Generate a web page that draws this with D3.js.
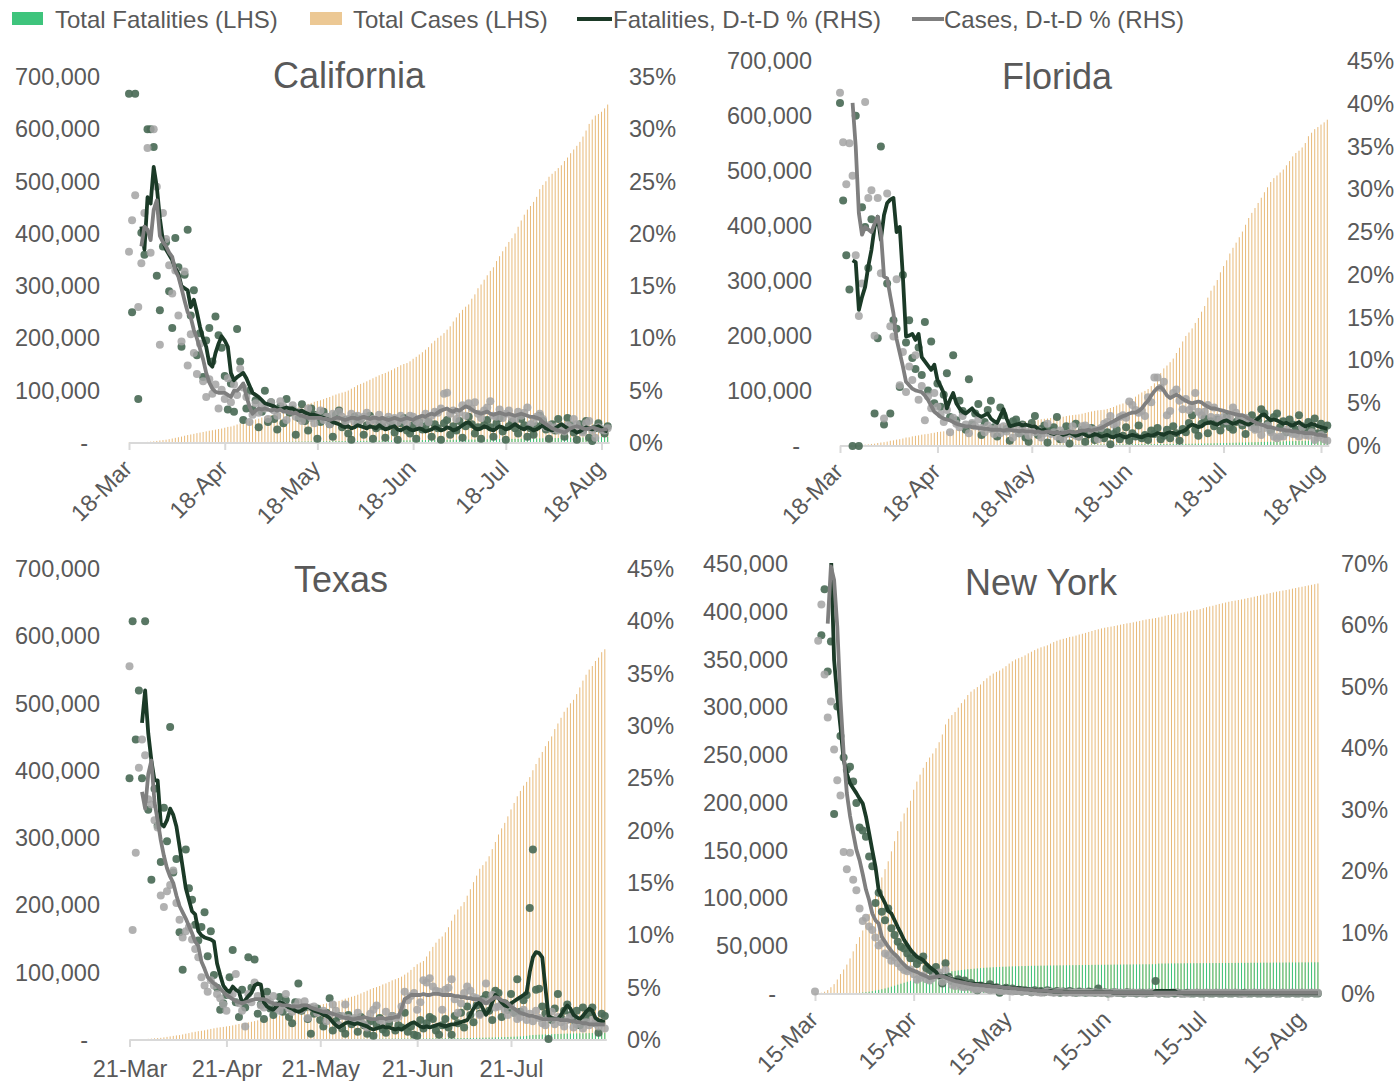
<!DOCTYPE html>
<html>
<head>
<meta charset="utf-8">
<script src="https://cdn.jsdelivr.net/npm/d3@7"></script>
<style>
    body { margin: 0; background: #fff; }
    svg text { font-family: "Liberation Sans", Arial, sans-serif; fill: #595959; }
</style>
</head>
<body>
<svg id="chart" width="1396" height="1081"></svg>
<script>
// series names for the legend
const seriesNames = ["Total Fatalities (LHS)", "Total Cases (LHS)", "Fatalities, D-t-D % (RHS)", "Cases, D-t-D % (RHS)"];
const stateNames = ["California", "Florida", "Texas", "New York"];

// ---------- California (daily from 18-Mar, totals in thousands, rates in %) ----------
const caTicks = ["18-Mar", "18-Apr", "18-May", "18-Jun", "18-Jul", "18-Aug"];
const caCases = [
    0.7, 0.9, 1.1, 1.3, 1.5, 1.8, 2.1, 2.6, 3.2, 4.0, 4.9, 5.6, 6.3, 7.4,
    8.6, 9.9, 11.0, 12.3, 13.9, 15.2, 16.3, 17.5, 18.9, 19.9, 21.1, 22.3, 23.5, 24.4, 25.5, 26.7, 27.7, 29.2, 30.8, 31.5, 33.2, 35.4, 37.4, 39.6, 41.4, 42.4, 44.0, 45.0, 46.5, 48.7,
    50.4, 52.0, 53.6, 54.9, 56.2, 58.5, 60.6, 62.5, 64.5, 66.6, 67.9, 69.5, 71.1, 72.8, 74.8, 76.7, 78.8, 80.4, 81.8, 83.8, 86.2, 88.0, 90.6, 92.7, 94.8, 96.4, 98.0, 100.4, 103.9, 106.9, 110.6,
    113.0, 115.3, 118.0, 120.9, 123.8, 126.7, 129.5, 132.0, 134.0, 136.6, 139.3, 142.6, 145.3, 148.7, 151.1, 152.9, 156.2, 161.1, 164.8, 169.3, 173.6, 178.5, 183.3, 190.6, 195.6, 201.1, 205.2, 210.2, 216.8, 223.2,
    232.4, 240.2, 248.2, 254.7, 260.7, 265.0, 276.0, 284.3, 296.0, 303.2, 312.3, 320.8, 329.2, 336.1, 348.0, 357.3, 366.7, 375.4, 384.5, 391.7, 400.8, 413.6, 425.6, 436.7, 446.4, 453.3, 461.1, 470.8, 485.5, 493.6, 500.6,
    509.2, 514.9, 519.9, 525.8, 531.2, 539.3, 546.0, 554.2, 561.3, 568.4, 575.9, 586.1, 597.6, 610.3, 618.7, 626.2, 629.2, 633.5, 640.0, 647.3
];
const caDeaths = [
    0.02, 0.02, 0.02, 0.03, 0.03, 0.04, 0.04, 0.05, 0.07, 0.08, 0.1, 0.12, 0.13, 0.16,
    0.18, 0.21, 0.24, 0.28, 0.32, 0.35, 0.38, 0.44, 0.5, 0.56, 0.6, 0.65, 0.71, 0.76, 0.82, 0.9, 0.98, 1.05, 1.12, 1.17, 1.22, 1.28, 1.35, 1.42, 1.49, 1.56, 1.62, 1.69, 1.76, 1.84,
    1.91, 1.98, 2.05, 2.1, 2.15, 2.2, 2.3, 2.4, 2.5, 2.6, 2.65, 2.7, 2.75, 2.85, 2.95, 3.03, 3.1, 3.15, 3.2, 3.3, 3.38, 3.45, 3.52, 3.6, 3.65, 3.7, 3.75, 3.8, 3.88, 3.97, 4.04,
    4.1, 4.15, 4.2, 4.3, 4.4, 4.5, 4.55, 4.6, 4.65, 4.75, 4.85, 4.95, 5.0, 5.05, 5.1, 5.15, 5.25, 5.35, 5.45, 5.5, 5.55, 5.6, 5.65, 5.7, 5.8, 5.9, 5.95, 6.0, 6.05, 6.1,
    6.2, 6.3, 6.35, 6.4, 6.45, 6.5, 6.6, 6.7, 6.85, 6.95, 7.05, 7.1, 7.15, 7.25, 7.35, 7.5, 7.6, 7.7, 7.8, 7.85, 7.9, 8.05, 8.2, 8.35, 8.45, 8.55, 8.6, 8.7, 8.9, 9.05, 9.2,
    9.25, 9.3, 9.4, 9.5, 9.7, 9.85, 10.0, 10.1, 10.2, 10.3, 10.4, 10.55, 10.7, 10.85, 10.95, 11.0, 11.1, 11.2, 11.35, 11.5
];
const caFatPct = [
    33.4, 12.5, 33.4, 4.2, 20.1, 18.0, 30.0, 30.0, 28.3, 16.0,
    12.7, 18.8, 19.2, 14.5, 11.0, 19.6, 16.8, 9.2, 16.1, 20.4,
    12.2, 14.6, 8.4, 10.5, 6.3, 9.8, 11.0, 7.8, 12.1, 10.3,
    9.1, 6.4, 3.2, 5.7, 3.0, 10.9, 7.8, 2.2, 3.3, 5.0,
    3.2, 4.1, 1.5, 3.0, 5.0, 2.0, 3.9, 2.3, 1.3, 3.5,
    1.9, 4.2, 2.9, 3.2, 0.8, 2.4, 3.7, 2.1, 1.2, 3.3,
    2.7, 0.4, 2.0, 3.0, 2.5, 1.8, 0.6, 2.7, 3.1, 1.5,
    2.2, 0.9, 0.3, 2.5, 1.9, 2.3, 0.8, 1.7, 2.6, 0.4,
    1.4, 2.1, 1.6, 0.5, 2.2, 1.8, 1.0, 0.3, 1.9, 2.4,
    1.2, 0.9, 1.7, 0.4, 2.0, 1.3, 1.6, 2.0, 0.6, 1.8,
    1.4, 0.3, 1.9, 2.2, 0.8, 1.6, 1.2, 2.1, 0.5, 1.6,
    2.5, 1.8, 0.9, 1.5, 0.4, 1.7, 2.2, 1.5, 0.6, 1.9,
    2.4, 1.1, 0.3, 1.6, 2.0, 1.4, 0.9, 2.3, 1.7, 0.6,
    1.4, 0.8, 1.6, 2.6, 2.1, 1.3, 0.4, 1.8, 1.2, 2.3,
    1.5, 0.6, 2.4, 1.7, 1.0, 0.3, 1.8, 1.2, 2.1, 0.5,
    0.2, 1.4, 1.9, 1.3, 0.9, 1.6
];
const caCasePct = [
    18.3, 21.3, 23.7, 13.0, 17.2, 22.0, 28.2, 18.2, 30.0, 24.5,
    9.4, 22.0, 19.5, 17.0, 14.3, 16.5, 12.2, 9.7, 16.4, 7.4,
    10.4, 8.6, 6.6, 9.5, 5.9, 4.4, 6.1, 4.7, 5.6, 3.3,
    5.1, 4.2, 6.2, 3.9, 5.6, 4.6, 7.1, 5.3, 4.4, 2.0,
    2.7, 3.8, 2.9, 3.6, 3.3, 2.3, 3.9, 3.1, 2.6, 4.0,
    3.5, 2.2, 3.1, 3.6, 2.5, 3.0, 2.1, 2.8, 3.3, 2.4,
    1.9, 2.6, 3.1, 2.2, 2.5, 1.8, 2.8, 2.2, 3.0, 2.5,
    1.9, 2.3, 2.8, 2.0, 2.6, 2.2, 2.5, 2.9, 2.0, 2.3,
    2.1, 2.7, 2.2, 1.9, 2.5, 2.1, 2.4, 2.0, 2.6, 2.2,
    1.9, 2.6, 2.5, 2.1, 1.8, 2.4, 2.8, 2.0, 2.6, 3.0,
    2.9, 3.3, 4.7, 4.8, 2.8, 3.1, 2.3, 2.9, 3.6, 2.6,
    3.8, 3.3, 3.9, 2.8, 2.4, 3.1, 3.4, 4.0, 2.6, 2.5,
    3.2, 2.4, 2.8, 3.1, 2.4, 2.2, 3.0, 2.6, 2.9, 3.4,
    1.8, 2.0, 2.5, 2.8, 2.3, 1.5, 1.7, 1.3, 1.5, 1.2,
    1.4, 1.1, 1.7, 1.5, 2.3, 1.8, 1.3, 1.0, 1.9, 2.1,
    1.2, 0.5, 1.5, 1.3, 1.2, 1.4
];
const caFatAvg = [
    null, null, null, null, 20.7, 18.5, 23.5, 22.9, 26.4, 24.5,
    21.5, 19.3, 18.5, 18.0, 17.5, 16.7, 16.2, 15.0, 14.8, 14.6,
    13.0, 13.7, 12.5, 11.1, 10.0, 9.2, 7.6, 7.3, 8.6, 9.5,
    10.2, 9.8, 9.2, 6.7, 6.0, 6.3, 6.5, 6.7, 6.2, 5.5,
    4.8, 4.6, 4.4, 4.1, 3.8, 3.7, 3.6, 3.5, 3.3, 3.2,
    3.3, 3.4, 3.3, 3.3, 3.1, 3.0, 3.1, 2.9, 2.8, 2.7,
    2.7, 2.6, 2.5, 2.4, 2.3, 2.2, 2.0, 1.9, 1.8, 1.6,
    1.5, 1.6, 1.4, 1.5, 1.7, 1.6, 1.5, 1.4, 1.6, 1.5,
    1.4, 1.7, 1.5, 1.3, 1.4, 1.5, 1.6, 1.3, 1.2, 1.4,
    1.5, 1.3, 1.2, 1.3, 1.4, 1.3, 1.1, 1.2, 1.3, 1.5,
    1.4, 1.2, 1.3, 1.5, 1.4, 1.2, 1.3, 1.5, 1.7, 1.9,
    2.0, 1.7, 1.4, 1.3, 1.4, 1.6, 1.5, 1.3, 1.2, 1.4,
    1.6, 1.5, 1.3, 1.4, 1.6, 1.8, 1.6, 1.4, 1.3, 1.5,
    1.4, 1.2, 1.3, 1.5, 1.7, 1.4, 1.3, 1.2, 1.4, 1.6,
    1.8, 1.6, 1.4, 1.3, 1.2, 1.0, 1.1, 1.3, 1.5, 1.4,
    1.3, 1.5, 1.6, 1.4, 1.2, 1.1
];
const caCaseAvg = [
    null, null, null, null, 18.8, 20.7, 20.4, 19.4, 22.3, 23.2,
    19.8, 19.2, 18.8, 18.2, 17.8, 16.5, 15.9, 14.8, 13.6, 12.5,
    12.0, 10.8, 10.0, 9.0, 8.0, 6.7, 5.8, 5.2, 4.9, 4.8,
    4.8, 4.8, 4.6, 4.4, 5.0, 5.0, 5.3, 5.7, 4.5, 3.5,
    2.8, 3.1, 3.3, 3.2, 3.3, 3.2, 3.1, 3.2, 3.1, 3.2,
    3.0, 3.0, 2.9, 2.8, 2.9, 2.7, 2.6, 2.5, 2.4, 2.4,
    2.4, 2.4, 2.4, 2.3, 2.3, 2.2, 2.3, 2.4, 2.4, 2.3,
    2.2, 2.3, 2.4, 2.4, 2.3, 2.4, 2.5, 2.4, 2.3, 2.4,
    2.4, 2.3, 2.4, 2.3, 2.2, 2.3, 2.4, 2.3, 2.2, 2.3,
    2.4, 2.3, 2.2, 2.4, 2.5, 2.6, 2.5, 2.7, 2.8, 2.7,
    2.9, 3.1, 3.2, 3.3, 3.1, 3.0, 3.2, 3.1, 3.3, 3.5,
    3.4, 3.2, 3.0, 2.9, 2.8, 2.9, 3.0, 2.8, 2.7, 2.8,
    2.9, 2.8, 2.7, 2.8, 2.7, 2.6, 2.7, 2.8, 2.7, 2.6,
    2.5, 2.5, 2.4, 2.3, 2.0, 1.8, 1.6, 1.4, 1.3, 1.2,
    1.1, 1.0, 1.2, 1.4, 1.5, 1.6, 1.5, 1.4, 1.3, 1.4,
    1.5, 1.4, 1.3, 1.2, 1.3, 1.3
];

// ---------- Florida (daily from 18-Mar) ----------
const flTicks = ["18-Mar", "18-Apr", "18-May", "18-Jun", "18-Jul", "18-Aug"];
const flCases = [
    0.31, 0.39, 0.52, 0.66, 0.83, 1.17, 1.41, 1.98, 2.48, 2.90, 3.76, 4.25, 5.47, 6.34,
    6.96, 8.01, 9.59, 10.27, 11.55, 12.35, 13.62, 15.46, 15.70, 17.53, 18.49, 19.36, 20.6, 21.37, 22.08, 23.34, 24.12, 25.49, 25.99, 26.66, 27.49, 28.31, 28.83, 29.65, 30.53, 31.53, 32.14, 32.85, 33.19, 33.69,
    34.73, 35.46, 36.08, 36.9, 37.44, 38.0, 38.83, 39.2, 39.93, 40.6, 40.98, 41.92, 42.4, 43.21, 44.14, 44.81, 45.59, 46.44, 46.94, 47.47, 48.68, 49.45, 50.13, 50.87, 51.75, 52.26, 52.63, 53.28, 54.5, 55.42, 56.16,
    56.83, 57.45, 58.76, 60.18, 61.49, 62.76, 63.94, 64.9, 65.4, 66.0, 67.37, 69.07, 70.97, 73.55, 75.57, 77.33, 80.1, 82.7, 85.5, 89.7, 93.8, 97.3, 100.2, 103.5, 109.0, 114.0, 122.9, 132.5, 141.1, 146.3,
    152.4, 158.99, 169.1, 178.6, 190.1, 200.1, 206.4, 213.8, 223.8, 232.7, 244.2, 254.5, 269.8, 282.4, 291.6, 301.8, 315.8, 327.2, 337.6, 350.0, 360.4, 369.8, 379.6, 389.9, 402.3, 414.5, 423.9, 432.7, 441.9, 451.4, 461.4,
    470.4, 480.0, 487.1, 491.9, 497.3, 502.7, 510.4, 518.1, 526.6, 532.8, 536.9, 542.8, 550.9, 563.3, 569.6, 576.1, 579.9, 584.4, 588.5, 593.3
];
const flDeaths = [
    0.008, 0.009, 0.01, 0.012, 0.013, 0.018, 0.02, 0.023, 0.03, 0.036, 0.05, 0.056, 0.07, 0.085,
    0.1, 0.13, 0.17, 0.2, 0.25, 0.3, 0.33, 0.35, 0.39, 0.44, 0.46, 0.48, 0.5, 0.54, 0.59, 0.63, 0.67, 0.72, 0.76, 0.81, 0.85, 0.89, 0.92, 0.94, 0.96, 1.0, 1.05, 1.08, 1.12, 1.16,
    1.2, 1.25, 1.3, 1.35, 1.4, 1.45, 1.5, 1.55, 1.6, 1.65, 1.7, 1.73, 1.76, 1.8, 1.85, 1.89, 1.93, 1.97, 2.0, 2.05, 2.1, 2.14, 2.18, 2.22, 2.26, 2.29, 2.32, 2.35, 2.4, 2.44, 2.47,
    2.5, 2.53, 2.57, 2.62, 2.66, 2.7, 2.74, 2.78, 2.82, 2.87, 2.91, 2.96, 3.01, 3.05, 3.09, 3.13, 3.17, 3.21, 3.25, 3.29, 3.33, 3.37, 3.41, 3.45, 3.49, 3.53, 3.57, 3.61, 3.65, 3.7,
    3.75, 3.8, 3.85, 3.9, 3.95, 4.0, 4.1, 4.2, 4.3, 4.4, 4.5, 4.6, 4.7, 4.8, 4.95, 5.1, 5.25, 5.4, 5.55, 5.7, 5.85, 6.0, 6.15, 6.3, 6.45, 6.6, 6.75, 6.9, 7.1, 7.3, 7.5,
    7.6, 7.75, 7.9, 8.05, 8.2, 8.4, 8.6, 8.75, 8.9, 9.05, 9.15, 9.3, 9.4, 9.55, 9.7, 9.8, 9.9, 9.95, 10.05, 10.2
];
const flFatPct = [
    40.1, 28.7, 22.3, 18.3, 0.0, 38.6, 0.0, 27.9, 25.6, 20.8,
    26.5, 3.8, 12.6, 35.0, 2.5, 19.0, 3.8, 14.7, 13.7, 6.9,
    20.0, 12.1, 14.7, 10.3, 9.0, 11.5, 8.3, 14.5, 6.5, 12.2,
    5.0, 7.3, 4.6, 6.0, 8.5, 3.4, 10.6, 3.0, 5.3, 4.1,
    1.9, 7.8, 2.5, 3.8, 4.9, 1.3, 2.8, 4.2, 5.3, 2.2,
    1.1, 4.5, 3.6, 2.0, 0.6, 2.9, 3.1, 1.5, 2.5, 1.0,
    0.5, 2.7, 3.5, 1.3, 2.0, 2.4, 0.4, 1.8, 2.2, 3.4,
    0.8, 1.5, 2.3, 0.3, 1.4, 2.6, 1.1, 1.9, 0.5, 1.6,
    2.1, 0.7, 1.3, 1.8, 0.9, 1.6, 0.2, 1.4, 1.9, 0.8,
    1.2, 2.2, 0.6, 1.5, 1.1, 2.4, 0.9, 1.3, 0.7, 1.8,
    1.4, 2.1, 0.8, 1.2, 1.9, 0.9, 2.3, 1.5, 0.6, 2.0,
    1.6, 2.7, 3.6, 1.9, 1.2, 2.6, 3.2, 1.5, 2.9, 2.3,
    3.1, 1.8, 2.6, 3.4, 2.2, 1.9, 2.8, 3.3, 2.4, 1.4,
    2.9, 3.6, 2.1, 3.0, 4.3, 3.8, 2.6, 1.8, 3.4, 3.8,
    2.2, 2.9, 1.6, 3.1, 2.5, 1.9, 3.6, 2.3, 1.7, 2.8,
    2.0, 3.2, 1.5, 2.6, 1.9, 2.4
];
const flCasePct = [
    41.3, 35.5, 30.6, 35.4, 31.6, 22.3, 15.2, 19.0, 40.2, 29.0,
    29.9, 12.9, 29.0, 20.2, 3.2, 29.5, 14.0, 12.8, 19.5, 7.1,
    11.0, 6.3, 9.3, 7.7, 10.6, 5.4, 7.0, 3.0, 5.8, 4.4,
    6.2, 4.6, 3.7, 2.8, 4.2, 1.6, 3.3, 2.6, 2.2, 3.5,
    2.5, 1.5, 2.7, 2.3, 3.1, 2.1, 1.6, 2.4, 2.0, 1.4,
    2.2, 1.5, 2.3, 1.7, 2.1, 1.0, 1.9, 1.5, 2.3, 1.7,
    1.2, 2.1, 1.6, 1.8, 1.0, 1.5, 2.6, 1.4, 1.6, 1.1,
    1.8, 0.8, 1.4, 1.5, 2.3, 1.2, 1.1, 2.3, 2.4, 2.1,
    1.6, 1.9, 0.8, 2.1, 2.6, 2.8, 3.5, 2.5, 2.7, 3.4,
    3.6, 3.3, 5.2, 4.8, 4.2, 3.9, 4.1, 3.5, 5.7, 5.1,
    8.0, 8.0, 6.8, 7.5, 3.6, 4.1, 6.2, 6.6, 5.3, 4.3,
    5.5, 4.2, 4.6, 6.2, 4.0, 3.6, 4.0, 4.8, 3.4, 4.5,
    3.3, 3.0, 3.4, 2.9, 3.3, 4.5, 3.9, 3.2, 2.8, 3.3,
    2.7, 2.2, 1.9, 2.0, 1.3, 2.1, 2.4, 1.6, 1.1, 0.9,
    1.1, 1.1, 1.9, 1.6, 1.4, 1.4, 1.1, 2.2, 1.3, 1.2,
    1.6, 0.7, 1.0, 1.3, 0.8, 0.6
];
const flFatAvg = [
    null, null, null, null, 21.7, 21.5, 15.9, 17.4, 18.6, 21.0,
    22.9, 25.6, 26.8, 24.1, 27.0, 28.4, 28.8, 29.0, 25.0, 25.6,
    19.8, 12.8, 12.9, 13.1, 12.4, 13.1, 10.4, 9.9, 9.4, 8.9,
    9.5, 7.7, 7.0, 6.2, 4.4, 5.4, 6.2, 5.0, 4.4, 4.0,
    3.8, 4.1, 4.4, 3.9, 3.6, 3.4, 3.6, 3.8, 3.2, 2.9,
    2.7, 3.5, 4.3, 3.2, 2.3, 2.4, 2.5, 2.6, 2.4, 2.5,
    2.4, 2.3, 2.3, 2.0, 1.8, 1.9, 1.7, 1.5, 1.4, 1.6,
    1.5, 1.3, 1.4, 1.6, 1.4, 1.2, 1.3, 1.5, 1.3, 1.1,
    1.2, 1.4, 1.3, 1.1, 1.2, 1.3, 1.1, 1.0, 1.2, 1.3,
    1.1, 1.0, 1.2, 1.3, 1.2, 1.1, 1.0, 1.2, 1.3, 1.2,
    1.3, 1.5, 1.4, 1.3, 1.5, 1.6, 1.5, 1.4, 1.6, 1.7,
    1.9, 2.3, 2.5, 2.4, 2.2, 2.3, 2.6, 2.7, 2.8, 2.6,
    2.5, 2.7, 2.9, 3.0, 2.8, 2.6, 2.7, 2.9, 2.8, 2.6,
    2.5, 2.7, 2.9, 3.2, 3.6, 3.7, 3.3, 3.0, 3.1, 3.0,
    2.8, 2.6, 2.7, 2.5, 2.4, 2.6, 2.8, 2.5, 2.3, 2.4,
    2.6, 2.5, 2.3, 2.2, 2.1, 2.0
];
const flCaseAvg = [
    null, null, null, null, 40.1, 35.0, 27.2, 24.7, 25.6, 25.3,
    25.0, 26.0, 26.8, 25.0, 19.8, 19.6, 17.5, 15.5, 12.5, 10.9,
    9.3, 7.5, 7.1, 6.7, 6.5, 6.4, 6.3, 5.9, 5.4, 4.7,
    4.0, 3.7, 3.4, 3.2, 3.1, 3.0, 2.8, 2.6, 2.5, 2.4,
    2.3, 2.3, 2.2, 2.2, 2.1, 2.1, 2.0, 2.0, 1.9, 1.9,
    1.9, 1.9, 1.8, 1.9, 1.9, 1.8, 1.8, 1.7, 1.8, 1.7,
    1.7, 1.7, 1.6, 1.7, 1.6, 1.6, 1.7, 1.6, 1.5, 1.6,
    1.5, 1.5, 1.6, 1.7, 1.6, 1.6, 1.7, 1.8, 1.8, 1.9,
    1.8, 1.9, 2.0, 2.1, 2.3, 2.5, 2.7, 2.9, 3.1, 3.3,
    3.5, 3.6, 3.8, 3.9, 3.9, 4.1, 4.4, 4.9, 5.3, 5.9,
    6.4, 6.8, 6.9, 6.5, 5.9, 5.6, 5.8, 6.0, 5.8, 5.5,
    5.3, 5.1, 5.0, 5.1, 5.2, 5.1, 4.8, 4.6, 4.4, 4.4,
    4.3, 4.2, 4.1, 4.0, 3.9, 3.8, 3.7, 3.6, 3.6, 3.4,
    3.2, 3.0, 2.8, 2.6, 2.5, 2.4, 2.2, 2.2, 2.1, 2.0,
    1.9, 1.9, 1.8, 1.8, 1.7, 1.7, 1.6, 1.6, 1.5, 1.5,
    1.5, 1.4, 1.3, 1.3, 1.2, 1.2
];

// ---------- Texas (daily from 21-Mar) ----------
const txTicks = ["21-Mar", "21-Apr", "21-May", "21-Jun", "21-Jul"];
const txCases = [
    0.26, 0.33, 0.41, 0.72, 0.97, 1.40, 1.73, 2.05, 2.55, 2.88, 3.27,
    3.92, 4.67, 5.33, 6.11, 6.81, 7.28, 8.26, 9.35, 10.23, 11.42, 12.18, 13.10, 13.65, 14.42, 15.49, 16.46, 17.37, 18.26, 18.92, 19.46, 20.20, 20.76, 21.72, 22.72, 23.77, 24.63, 25.32, 26.17, 27.05, 28.09,
    29.23, 30.52, 31.55, 32.33, 33.35, 34.42, 35.44, 36.61, 37.86, 38.87, 39.87, 40.93, 42.40, 43.97, 45.14, 46.78, 47.79, 48.69, 49.91, 51.32, 52.27, 53.45, 54.51, 55.35, 56.26, 56.86, 58.08, 59.78, 61.51, 62.78, 64.29,
    65.59, 67.34, 69.2, 71.2, 73.3, 75.4, 77.3, 78.6, 80.3, 82.6, 84.1, 86.3, 88.7, 90.3, 92.1, 94.2, 97.2, 100.2, 104.2, 108.6, 112.6, 115.1, 117.4, 124.1, 131.9, 138.4, 144.7, 150.4, 153.8, 160.1,
    167.6, 177.3, 186.4, 194.0, 198.8, 205.0, 214.5, 224.1, 234.6, 244.3, 254.5, 259.9, 265.3, 273.1, 283.7, 294.3, 305.4, 314.6, 322.7, 332.4, 342.7, 352.3, 362.2, 370.2, 378.0, 383.6, 390.7, 400.9, 410.2, 419.4, 428.1,
    436.7, 444.1, 451.2, 462.1, 470.4, 478.9, 487.8, 494.0, 500.4, 505.6, 514.1, 524.0, 534.1, 542.9, 550.5, 555.8, 563.3, 568.3, 576.4, 580.7
];
const txDeaths = [
    0.005, 0.006, 0.008, 0.01, 0.012, 0.018, 0.023, 0.027, 0.034, 0.038, 0.041,
    0.058, 0.065, 0.08, 0.1, 0.115, 0.13, 0.15, 0.18, 0.2, 0.23, 0.25, 0.27, 0.29, 0.31, 0.36, 0.4, 0.43, 0.46, 0.48, 0.5, 0.52, 0.55, 0.57, 0.6, 0.62, 0.64, 0.66, 0.69, 0.73, 0.76,
    0.78, 0.82, 0.85, 0.87, 0.9, 0.94, 0.97, 1.0, 1.03, 1.06, 1.09, 1.11, 1.13, 1.16, 1.2, 1.24, 1.28, 1.31, 1.33, 1.35, 1.38, 1.41, 1.43, 1.46, 1.49, 1.51, 1.53, 1.56, 1.59, 1.62, 1.65,
    1.68, 1.71, 1.74, 1.77, 1.8, 1.84, 1.87, 1.89, 1.92, 1.95, 1.98, 2.01, 2.04, 2.07, 2.09, 2.13, 2.17, 2.2, 2.23, 2.25, 2.27, 2.3, 2.33, 2.36, 2.4, 2.45, 2.49, 2.51, 2.54, 2.58,
    2.62, 2.67, 2.72, 2.78, 2.82, 2.86, 2.92, 3.0, 3.1, 3.2, 3.3, 3.4, 3.5, 3.6, 3.7, 3.85, 4.0, 4.15, 4.3, 4.5, 4.7, 4.9, 5.1, 5.3, 5.6, 6.2, 6.9, 7.4, 7.6, 7.9, 8.1,
    8.3, 8.45, 8.6, 8.8, 9.0, 9.2, 9.35, 9.5, 9.6, 9.7, 9.8, 9.9, 10.0, 10.1, 10.2, 10.3, 10.4, 10.5, 10.6, 10.7
];
const txFatPct = [
    25.0, 40.0, 28.7, 33.4, 25.0, 40.0, 22.0, 15.3, 24.0, 20.5,
    17.0, 22.2, 19.0, 29.9, 16.0, 17.3, 10.3, 6.7, 18.2, 14.5,
    13.4, 11.0, 9.5, 10.8, 12.2, 8.0, 10.4, 6.2, 5.0, 2.9,
    3.5, 4.3, 6.0, 8.6, 3.6, 2.2, 4.8, 3.1, 7.9, 5.0,
    7.7, 2.5, 3.4, 2.0, 4.6, 3.0, 2.4, 3.3, 4.1, 2.7,
    3.8, 2.2, 1.6, 3.6, 5.4, 2.8, 3.1, 2.0, 0.6, 2.5,
    3.0, 1.9, 1.3, 2.6, 4.0, 0.9, 1.8, 2.3, 1.1, 0.6,
    2.4, 1.5, 1.9, 0.8, 2.2, 1.4, 0.6, 1.8, 0.4, 1.5,
    2.1, 1.0, 0.7, 1.6, 2.3, 0.9, 1.4, 1.2, 2.6, 0.8,
    1.3, 0.5, 0.4, 1.9, 1.1, 1.6, 2.2, 2.0, 0.9, 0.5,
    1.4, 2.0, 1.2, 0.5, 2.3, 1.6, 2.6, 1.2, 3.2, 2.4,
    1.7, 3.3, 2.5, 3.9, 4.3, 2.8, 1.9, 4.7, 4.5, 2.2,
    3.5, 2.9, 4.4, 2.6, 5.8, 2.7, 3.8, 4.3, 12.6, 18.2,
    4.8, 4.9, 3.2, 2.5, 0.1, 1.9, 3.0, 4.4, 2.1, 2.8,
    3.4, 2.4, 1.9, 2.8, 1.4, 3.1, 2.0, 2.6, 3.1, 1.6,
    0.7, 2.5, 2.3
];
const txCasePct = [
    35.7, 10.5, 17.9, 26.0, 28.7, 27.2, 23.0, 22.5, 21.0, 20.3,
    13.8, 12.7, 14.2, 14.8, 16.2, 13.1, 11.5, 9.8, 10.4, 10.8,
    9.6, 8.7, 7.9, 6.0, 5.2, 4.6, 5.7, 5.2, 4.4, 4.0,
    3.4, 2.8, 4.3, 4.4, 6.3, 3.5, 2.8, 1.3, 4.4, 3.6,
    5.5, 4.2, 3.3, 3.1, 3.9, 3.6, 4.2, 3.0, 2.8, 3.3,
    4.4, 3.0, 2.7, 3.2, 3.6, 2.9, 3.7, 2.1, 3.1, 3.2,
    2.6, 2.7, 2.8, 1.8, 2.4, 3.4, 2.8, 1.4, 2.3, 3.4,
    2.1, 1.9, 2.1, 2.6, 1.7, 1.5, 1.2, 2.5, 2.9, 3.3,
    1.9, 1.8, 2.7, 2.0, 2.3, 2.1, 2.2, 3.2, 4.6, 3.8,
    4.2, 4.5, 2.9, 3.6, 5.7, 5.5, 5.9, 5.1, 4.7, 4.6,
    2.9, 4.8, 5.0, 5.8, 3.9, 2.6, 3.5, 4.5, 5.1, 4.7,
    4.1, 4.0, 2.4, 3.7, 5.4, 3.7, 4.3, 3.1, 3.2, 3.4,
    2.9, 2.4, 3.3, 2.6, 2.0, 2.2, 2.9, 1.9, 2.5, 1.8,
    2.8, 2.1, 1.6, 1.4, 2.1, 2.7, 1.5, 2.2, 1.7, 1.3,
    1.9, 2.2, 1.2, 1.5, 1.8, 1.1, 1.7, 1.4, 1.9, 1.6,
    1.3, 1.6, 1.1
];
const txFatAvg = [
    null, null, null, null, 30.3, 33.4, 29.3, 26.7, 24.8, 24.8,
    20.7, 20.4, 21.0, 22.1, 21.5, 20.4, 18.5, 16.5, 14.5, 13.4,
    12.3, 12.0, 10.4, 10.0, 9.8, 9.7, 9.6, 9.4, 7.3, 6.2,
    5.2, 4.8, 4.6, 5.1, 4.8, 4.6, 3.6, 3.8, 4.2, 4.5,
    5.2, 5.4, 5.3, 3.6, 3.2, 3.0, 2.9, 3.2, 3.6, 3.5,
    3.3, 3.1, 3.0, 2.8, 2.7, 2.8, 3.0, 3.2, 3.0, 2.8,
    2.7, 2.6, 2.4, 2.3, 2.1, 1.7, 1.4, 1.2, 1.4, 1.6,
    1.7, 1.6, 1.5, 1.6, 1.5, 1.4, 1.3, 1.1, 1.0, 1.1,
    1.2, 1.3, 1.2, 1.2, 1.1, 1.0, 1.1, 1.0, 1.2, 1.4,
    1.6, 1.7, 1.5, 1.3, 1.2, 1.3, 1.2, 1.3, 1.4, 1.5,
    1.4, 1.3, 1.4, 1.5, 1.5, 1.6, 1.7, 1.8, 1.9, 2.4,
    3.0, 3.4, 3.6, 3.0, 2.4, 2.8, 3.6, 4.3, 4.0, 3.6,
    3.3, 3.2, 3.5, 3.7, 3.9, 4.1, 4.3, 4.5, 6.5, 7.9,
    8.4, 8.3, 7.9, 5.0, 2.3, 2.1, 2.0, 2.0, 2.4, 2.9,
    3.3, 3.0, 2.4, 2.2, 2.0, 2.3, 2.7, 3.0, 2.8, 2.1,
    1.9, 1.8, 1.7
];
const txCaseAvg = [
    null, null, null, null, 23.7, 22.1, 25.4, 26.7, 22.7, 21.0,
    19.1, 17.6, 16.4, 15.6, 15.0, 13.8, 12.8, 12.2, 11.6, 10.9,
    10.2, 9.4, 9.0, 7.5, 6.8, 6.0, 5.7, 5.4, 5.2, 4.9,
    4.6, 4.3, 4.1, 3.9, 3.7, 3.6, 3.5, 3.6, 3.7, 3.8,
    3.9, 3.9, 3.9, 3.9, 3.8, 3.6, 3.5, 3.4, 3.4, 3.3,
    3.3, 3.3, 3.2, 3.2, 3.2, 3.3, 3.3, 3.3, 3.1, 3.0,
    2.9, 2.8, 2.7, 2.7, 2.6, 2.5, 2.4, 2.3, 2.2, 2.1,
    2.1, 2.0, 2.0, 2.1, 2.1, 2.2, 2.1, 2.0, 2.0, 2.0,
    2.1, 2.1, 2.0, 2.1, 2.1, 2.2, 2.2, 3.0, 3.9, 4.1,
    4.3, 4.3, 4.3, 4.3, 4.4, 4.3, 4.3, 4.4, 4.4, 4.4,
    4.3, 4.3, 4.3, 4.3, 4.2, 4.2, 4.1, 4.1, 4.0, 4.0,
    3.9, 3.9, 3.9, 3.7, 3.5, 3.7, 3.9, 4.1, 4.0, 3.8,
    3.7, 3.5, 3.2, 3.0, 2.8, 2.6, 2.5, 2.4, 2.3, 2.3,
    2.2, 2.1, 2.0, 2.0, 2.0, 2.0, 2.0, 2.0, 1.9, 1.9,
    1.9, 1.8, 1.8, 1.7, 1.7, 1.6, 1.6, 1.5, 1.5, 1.5,
    1.5, 1.5, 1.5
];

// ---------- New York (daily from 15-Mar) ----------
const nyTicks = ["15-Mar", "15-Apr", "15-May", "15-Jun", "15-Jul", "15-Aug"];
const nyCases = [
    0.73, 0.95, 1.37, 2.38, 4.15, 7.1, 10.36, 15.17, 20.87, 25.67, 30.81, 37.26, 44.64, 52.41, 59.5, 66.5, 75.8,
    83.7, 92.4, 102.9, 113.7, 122.0, 130.7, 138.9, 149.3, 159.9, 170.5, 180.5, 189.0, 195.0, 202.2, 213.8, 222.3, 229.6, 236.7, 242.8, 247.5, 251.7, 257.2, 263.5, 271.6, 282.1, 288.0, 291.9, 295.1, 299.7, 304.4,
    308.3, 312.9, 316.4, 318.9, 321.2, 323.9, 327.5, 330.4, 333.1, 335.4, 337.1, 338.5, 340.7, 343.1, 345.8, 348.2, 350.1, 351.4, 352.8, 354.4, 356.5, 358.2, 359.9, 361.5, 362.8, 363.8, 364.9, 366.7, 368.3, 369.7, 370.8,
    371.7, 372.5, 373.7, 374.1, 375.1, 376.2, 377.0, 377.9, 378.9, 379.9, 380.9, 381.7, 382.6, 383.3, 383.9, 384.5, 385.1, 385.8, 386.5, 387.2, 387.9, 388.4, 389.0, 389.7, 390.4, 391.2, 391.9, 392.5, 392.9, 393.5,
    394.1, 394.9, 395.9, 396.6, 397.1, 397.6, 398.2, 398.9, 399.5, 400.3, 401.0, 401.7, 402.1, 402.8, 403.8, 404.8, 405.6, 406.3, 407.3, 408.2, 408.9, 409.7, 410.5, 411.2, 411.7, 412.3, 412.9, 413.6, 414.4, 415.0, 415.8,
    416.6, 417.3, 418.0, 418.9, 419.6, 420.3, 421.0, 421.6, 422.2, 422.8, 423.4, 424.2, 424.9, 425.6, 426.2, 426.9, 427.6, 428.2, 428.9, 429.6
];
const nyDeaths = [
    0.003, 0.01, 0.02, 0.03, 0.04, 0.06, 0.1, 0.15, 0.2, 0.29, 0.39, 0.52, 0.73, 0.96, 1.2, 1.55, 1.94,
    2.4, 2.95, 3.6, 4.3, 5.0, 5.8, 6.7, 7.7, 8.7, 9.8, 10.8, 11.8, 12.8, 13.8, 14.8, 15.8, 16.7, 17.6, 18.4, 19.2, 20.0, 20.7, 21.4, 22.1, 22.7, 23.3, 23.8, 24.3, 24.7, 25.1,
    25.5, 25.9, 26.2, 26.5, 26.8, 27.1, 27.4, 27.6, 27.8, 28.0, 28.2, 28.3, 28.5, 28.6, 28.8, 28.9, 29.0, 29.1, 29.2, 29.3, 29.4, 29.5, 29.6, 29.6, 29.7, 29.7, 29.8, 29.8, 29.9, 29.9, 30.0,
    30.0, 30.1, 30.1, 30.2, 30.2, 30.3, 30.3, 30.4, 30.4, 30.5, 30.5, 30.6, 30.6, 30.6, 30.7, 30.7, 30.8, 30.8, 30.8, 30.9, 30.9, 30.9, 31.0, 31.0, 31.0, 31.1, 31.1, 31.1, 31.2, 31.2,
    31.9, 31.9, 31.95, 32.0, 32.0, 32.05, 32.1, 32.1, 32.15, 32.2, 32.2, 32.2, 32.25, 32.3, 32.3, 32.3, 32.35, 32.4, 32.4, 32.4, 32.45, 32.5, 32.5, 32.5, 32.55, 32.6, 32.6, 32.6, 32.65, 32.7, 32.7,
    32.7, 32.75, 32.8, 32.8, 32.8, 32.85, 32.9, 32.9, 32.9, 32.95, 33.0, 33.0, 33.0, 33.05, 33.1, 33.1, 33.1, 33.15, 33.2, 33.2
];
const nyFatPct = [
    null, null, 58.4, 65.9, 52.5, 57.4, 29.3, 46.8, 42.0, 38.5,
    36.5, 37.0, 34.6, 31.1, 27.1, 26.6, 25.6, 22.4, 20.8, 14.8,
    16.5, 13.4, 12.0, 13.9, 10.7, 9.6, 8.5, 7.7, 7.4, 6.6,
    5.8, 5.8, 4.9, 5.5, 6.1, 4.2, 3.9, 3.5, 4.4, 3.0,
    1.7, 5.0, 2.8, 2.1, 1.9, 2.4, 1.5, 2.2, 1.3, 1.8,
    1.1, 0.6, 1.4, 1.2, 0.9, 1.6, 0.8, 1.1, 0.2, 0.7,
    1.0, 0.6, 0.9, 0.5, 0.7, 0.4, 0.6, 0.5, 0.3, 0.6,
    0.4, 0.5, 0.3, 0.6, 0.4, 0.3, 0.5, 0.2, 0.4, 0.3,
    0.5, 0.3, 0.2, 0.4, 0.3, 0.2, 0.4, 0.3, 0.2, 0.9,
    0.2, 0.3, 0.1, 0.2, 0.3, 0.2, 0.2, 0.1, 0.3, 0.2,
    0.2, 0.1, 0.2, 0.2, 0.1, 0.2, 0.2, 2.1, 0.1, 0.2,
    0.1, 0.1, 0.2, 0.1, 0.2, 0.1, 0.1, 0.2, 0.1, 0.1,
    0.2, 0.1, 0.1, 0.2, 0.1, 0.1, 0.2, 0.1, 0.1, 0.2,
    0.1, 0.1, 0.2, 0.1, 0.1, 0.2, 0.1, 0.1, 0.2, 0.1,
    0.1, 0.2, 0.1, 0.1, 0.2, 0.1, 0.1, 0.2, 0.1, 0.1,
    0.2, 0.1, 0.1, 0.2, 0.1, 0.1, 0.2, 0.1, 0.1
];
const nyCasePct = [
    0.4, 57.5, 63.4, 52.0, 45.0, 47.6, 39.8, 34.8, 32.3, 23.1,
    20.3, 23.0, 18.6, 16.9, 13.9, 11.9, 12.4, 11.0, 10.4, 9.2,
    7.9, 8.3, 6.6, 6.3, 5.4, 6.0, 5.0, 4.4, 3.9, 3.7,
    4.0, 3.2, 2.3, 2.6, 3.0, 2.4, 2.2, 2.6, 3.1, 3.5,
    2.0, 3.9, 2.4, 1.5, 1.3, 1.8, 1.2, 1.1, 1.5, 1.1,
    0.8, 0.7, 0.9, 0.9, 0.8, 0.6, 0.7, 0.7, 0.5, 0.5,
    0.6, 0.5, 0.4, 0.5, 0.5, 0.4, 0.5, 0.5, 0.3, 0.4,
    0.3, 0.2, 0.3, 0.4, 0.3, 0.2, 0.3, 0.4, 0.3, 0.2,
    0.3, 0.2, 0.3, 0.2, 0.3, 0.3, 0.2, 0.2, 0.3, 0.2,
    0.2, 0.2, 0.2, 0.1, 0.3, 0.2, 0.2, 0.2, 0.2, 0.2,
    0.2, 0.2, 0.2, 0.1, 0.2, 0.2, 0.2, 0.2, 0.1, 0.2,
    0.2, 0.1, 0.2, 0.3, 0.2, 0.1, 0.1, 0.1, 0.2, 0.2,
    0.2, 0.2, 0.2, 0.2, 0.2, 0.2, 0.2, 0.2, 0.2, 0.2,
    0.2, 0.2, 0.2, 0.2, 0.1, 0.1, 0.2, 0.2, 0.2, 0.2,
    0.2, 0.2, 0.2, 0.2, 0.2, 0.1, 0.2, 0.2, 0.2, 0.2,
    0.2, 0.2, 0.2, 0.2, 0.2, 0.2, 0.2, 0.2, 0.2
];
const nyFatAvg = [
    null, null, null, null, null, 72.0, 54.4, 48.4, 43.5, 38.1,
    35.9, 34.3, 33.5, 32.7, 31.8, 31.0, 28.9, 26.2, 23.4, 20.7,
    16.9, 15.8, 14.8, 13.5, 13.1, 12.0, 10.9, 9.9, 8.8, 8.0,
    7.2, 6.6, 6.1, 5.8, 5.5, 4.9, 4.4, 4.0, 3.6, 2.8,
    2.9, 2.9, 2.6, 2.4, 2.3, 2.2, 2.1, 1.9, 1.8, 1.7,
    1.7, 1.6, 1.6, 1.5, 1.4, 1.4, 1.3, 1.3, 1.2, 1.1,
    1.1, 1.0, 1.0, 1.0, 0.9, 0.9, 0.8, 0.8, 0.7, 0.7,
    0.6, 0.6, 0.5, 0.5, 0.5, 0.4, 0.4, 0.4, 0.4, 0.4,
    0.3, 0.3, 0.3, 0.3, 0.3, 0.3, 0.3, 0.3, 0.4, 0.4,
    0.4, 0.3, 0.3, 0.3, 0.2, 0.2, 0.2, 0.2, 0.2, 0.2,
    0.2, 0.2, 0.2, 0.2, 0.2, 0.2, 0.2, 0.5, 0.5, 0.5,
    0.5, 0.5, 0.5, 0.5, 0.2, 0.2, 0.1, 0.1, 0.1, 0.1,
    0.1, 0.1, 0.1, 0.1, 0.1, 0.1, 0.1, 0.1, 0.1, 0.1,
    0.1, 0.1, 0.1, 0.1, 0.1, 0.1, 0.1, 0.1, 0.1, 0.1,
    0.1, 0.1, 0.1, 0.1, 0.1, 0.1, 0.1, 0.1, 0.1, 0.1,
    0.1, 0.1, 0.1, 0.1, 0.1, 0.1, 0.1, 0.1, 0.1
];
const nyCaseAvg = [
    null, null, null, null, 60.3, 69.6, 67.4, 59.8, 47.9, 39.2,
    32.7, 29.0, 26.2, 23.5, 21.8, 19.5, 17.0, 15.3, 13.1, 12.0,
    11.5, 9.3, 8.5, 7.7, 7.0, 6.5, 6.0, 5.3, 4.8, 4.3,
    4.0, 3.8, 3.6, 3.3, 3.1, 2.9, 2.6, 2.7, 2.8, 2.9,
    2.9, 2.7, 2.5, 2.3, 2.1, 2.0, 1.9, 1.8, 1.7, 1.6,
    1.5, 1.5, 1.4, 1.4, 1.3, 1.3, 1.2, 1.2, 1.2, 1.1,
    1.0, 1.0, 0.9, 0.9, 0.8, 0.8, 0.7, 0.7, 0.7, 0.6,
    0.6, 0.5, 0.5, 0.5, 0.4, 0.4, 0.4, 0.4, 0.3, 0.3,
    0.3, 0.3, 0.3, 0.3, 0.3, 0.3, 0.3, 0.3, 0.3, 0.3,
    0.3, 0.3, 0.3, 0.3, 0.2, 0.2, 0.2, 0.2, 0.2, 0.2,
    0.2, 0.2, 0.2, 0.2, 0.2, 0.2, 0.2, 0.2, 0.2, 0.2,
    0.2, 0.2, 0.2, 0.2, 0.2, 0.2, 0.2, 0.2, 0.2, 0.2,
    0.2, 0.2, 0.2, 0.2, 0.2, 0.2, 0.2, 0.2, 0.2, 0.2,
    0.2, 0.2, 0.2, 0.2, 0.2, 0.2, 0.2, 0.2, 0.2, 0.2,
    0.2, 0.2, 0.2, 0.2, 0.2, 0.2, 0.2, 0.2, 0.2, 0.2,
    0.2, 0.2, 0.2, 0.2, 0.2, 0.2, 0.2, 0.2, 0.2
];

const colors = {
    deaths: "#3ec47c",
    cases: "#e8ba7a",
    fatLine: "#1b3a27",
    caseLine: "#7f7f7f",
    fatDot: "#4b6b57",
    caseDot: "#a3a3a3",
    axis: "#d9d9d9",
    text: "#595959"
};

class StatePanel {
    constructor(canvas, key, title, data, layout) {
        this.canvas = canvas;
        this.key = key;
        this.title = title;
        this.data = data;
        this.layout = layout;
        this.y0 = layout.yRange[0];
        this.yTop = layout.yRange[1];
    };

    graphSetup() {
        const parseTick = d3.utcParse("%d-%b-%Y");
        this.tickDates = this.data.ticks.map(t => parseTick(`${t}-2020`));
        this.days = this.data.cases.map((d, i) => d3.utcDay.offset(this.tickDates[0], i));

        this.graph = this.canvas.append("g").attr("class", `panel-${this.key}`);
    };

    graphScales() {
        const l = this.layout;
        this.x = d3.scaleUtc()
            .domain([this.tickDates[0], this.tickDates[this.tickDates.length - 1]])
            .range(l.xRange);
        this.yLeft = d3.scaleLinear().domain([0, l.leftMax]).range(l.yRange);
        this.yRight = d3.scaleLinear().domain([0, l.rightMax]).range(l.yRange);

        this.xEnd = this.x(this.days[this.days.length - 1]);
        this.graph.append("clipPath")
            .attr("id", `clip-${this.key}`)
            .append("rect")
            .attr("x", l.xRange[0] - 10)
            .attr("y", this.yTop - 1)
            .attr("width", this.xEnd - l.xRange[0] + 20)
            .attr("height", this.y0 - this.yTop + 6);
    };

    graphAxes() {
        const l = this.layout;

        const leftAxis = d3.axisLeft(this.yLeft)
            .tickValues(d3.range(0, l.leftMax + 1, l.leftStep))
            .tickFormat(v => v === 0 ? "-" : d3.format(",")(v))
            .tickSize(0)
            .tickPadding(0);
        const leftGroup = this.graph.append("g")
            .attr("transform", `translate(${l.leftLabelX}, 0)`)
            .call(leftAxis)
            .attr("font-size", 23.5)
            .attr("font-family", null);
        leftGroup.select(".domain").remove();
        leftGroup.selectAll("text").attr("fill", colors.text);
        leftGroup.selectAll(".tick").filter(d => d === 0).select("text").attr("dx", -12);

        const rightAxis = d3.axisRight(this.yRight)
            .tickValues(d3.range(0, l.rightMax + 1, l.rightStep))
            .tickFormat(v => `${v}%`)
            .tickSize(0)
            .tickPadding(0);
        const rightGroup = this.graph.append("g")
            .attr("transform", `translate(${l.rightLabelX}, 0)`)
            .call(rightAxis)
            .attr("font-size", 23.5)
            .attr("font-family", null);
        rightGroup.select(".domain").remove();
        rightGroup.selectAll("text").attr("fill", colors.text);

        // category axis
        this.graph.append("line")
            .attr("x1", l.xRange[0])
            .attr("x2", this.xEnd + 2)
            .attr("y1", this.y0)
            .attr("y2", this.y0)
            .attr("stroke", colors.axis)
            .attr("stroke-width", 2);

        const xAxis = d3.axisBottom(this.x)
            .tickValues(this.tickDates)
            .tickFormat((d, i) => this.data.ticks[i])
            .tickSize(7)
            .tickSizeOuter(0);
        const xGroup = this.graph.append("g")
            .attr("transform", `translate(0, ${this.y0})`)
            .call(xAxis)
            .attr("font-size", 23.5)
            .attr("font-family", null);
        xGroup.select(".domain").remove();
        xGroup.selectAll(".tick line")
            .attr("stroke", colors.axis)
            .attr("stroke-width", 2);

        const labels = xGroup.selectAll("text").attr("fill", colors.text);
        if (l.rotate) {
            labels.attr("x", 0).attr("y", 0).attr("dy", null)
                .attr("text-anchor", "end")
                .attr("transform", "translate(4, 27) rotate(-45)");
        } else {
            labels.attr("y", 37).attr("dy", null);
        }

        this.graph.append("text")
            .text(this.title)
            .attr("x", l.titleX)
            .attr("y", l.titleY)
            .attr("text-anchor", "middle")
            .attr("font-size", 36)
            .attr("fill", colors.text);
    };

    graphBars() {
        const bars = this.graph.append("g");
        bars.selectAll("rect.cases")
            .data(this.data.cases)
            .join("rect")
            .attr("class", "cases")
            .attr("x", (d, i) => this.x(this.days[i]) - 0.5)
            .attr("y", d => this.yLeft(d * 1000))
            .attr("width", 1)
            .attr("height", d => this.y0 - this.yLeft(d * 1000))
            .attr("fill", colors.cases);

        bars.selectAll("rect.deaths")
            .data(this.data.deaths)
            .join("rect")
            .attr("class", "deaths")
            .attr("x", (d, i) => this.x(this.days[i]) - 0.5)
            .attr("y", d => this.yLeft(d * 1000))
            .attr("width", 1)
            .attr("height", d => this.y0 - this.yLeft(d * 1000))
            .attr("fill", colors.deaths);
    };

    graphDots() {
        const dotGroup = this.graph.append("g").attr("clip-path", `url(#clip-${this.key})`);
        const series = [
            { values: this.data.fatPct, fill: colors.fatDot, opacity: 0.92 },
            { values: this.data.casePct, fill: colors.caseDot, opacity: 0.85 }
        ];
        series.forEach(s => {
            const pts = s.values
                .map((v, i) => ({ v: v, date: this.days[i] }))
                .filter(p => p.v != null);
            dotGroup.append("g")
                .selectAll("circle")
                .data(pts)
                .join("circle")
                .attr("cx", p => this.x(p.date))
                .attr("cy", p => this.yRight(p.v))
                .attr("r", 4)
                .attr("fill", s.fill)
                .attr("fill-opacity", s.opacity);
        });
    };

    graphLines() {
        const lineGroup = this.graph.append("g").attr("clip-path", `url(#clip-${this.key})`);
        const path = d3.line()
            .defined(d => d != null)
            .x((d, i) => this.x(this.days[i]))
            .y(d => this.yRight(d));

        lineGroup.append("path")
            .datum(this.data.fatAvg)
            .attr("d", path)
            .attr("fill", "none")
            .attr("stroke", colors.fatLine)
            .attr("stroke-width", 3.8)
            .attr("stroke-linejoin", "round");

        lineGroup.append("path")
            .datum(this.data.caseAvg)
            .attr("d", path)
            .attr("fill", "none")
            .attr("stroke", colors.caseLine)
            .attr("stroke-width", 3.8)
            .attr("stroke-linejoin", "round");
    };

    grapher() {
        this.graphSetup();
        this.graphScales();
        this.graphBars();
        this.graphAxes();
        this.graphDots();
        this.graphLines();
    };
};

function drawLegend(canvas) {
    const legend = canvas.append("g").attr("font-size", 24);
    legend.append("rect").attr("x", 12).attr("y", 12).attr("width", 31).attr("height", 13).attr("fill", colors.deaths);
    legend.append("text").attr("x", 55).attr("y", 28).text(seriesNames[0]);
    legend.append("rect").attr("x", 310).attr("y", 12).attr("width", 32).attr("height", 13).attr("fill", "#ecc894");
    legend.append("text").attr("x", 353).attr("y", 28).text(seriesNames[1]);
    legend.append("line").attr("x1", 577).attr("x2", 612).attr("y1", 19).attr("y2", 19)
        .attr("stroke", colors.fatLine).attr("stroke-width", 4);
    legend.append("text").attr("x", 613).attr("y", 28).text(seriesNames[2]);
    legend.append("line").attr("x1", 912).attr("x2", 944).attr("y1", 19).attr("y2", 19)
        .attr("stroke", colors.caseLine).attr("stroke-width", 4);
    legend.append("text").attr("x", 944).attr("y", 28).text(seriesNames[3]);
}

const canvas = d3.select("#chart");
drawLegend(canvas);

new StatePanel(canvas, "ca", stateNames[0],
    { ticks: caTicks, cases: caCases, deaths: caDeaths, fatPct: caFatPct, casePct: caCasePct, fatAvg: caFatAvg, caseAvg: caCaseAvg },
    { xRange: [129, 601.5], yRange: [443, 77], leftMax: 700000, leftStep: 100000, rightMax: 35, rightStep: 5,
      leftLabelX: 100, rightLabelX: 629, rotate: true, titleX: 349, titleY: 88 }).grapher();

new StatePanel(canvas, "fl", stateNames[1],
    { ticks: flTicks, cases: flCases, deaths: flDeaths, fatPct: flFatPct, casePct: flCasePct, fatAvg: flFatAvg, caseAvg: flCaseAvg },
    { xRange: [840, 1321], yRange: [446, 61], leftMax: 700000, leftStep: 100000, rightMax: 45, rightStep: 5,
      leftLabelX: 812, rightLabelX: 1347, rotate: true, titleX: 1057, titleY: 89 }).grapher();

new StatePanel(canvas, "tx", stateNames[2],
    { ticks: txTicks, cases: txCases, deaths: txDeaths, fatPct: txFatPct, casePct: txCasePct, fatAvg: txFatAvg, caseAvg: txCaseAvg },
    { xRange: [129.5, 511], yRange: [1040, 569], leftMax: 700000, leftStep: 100000, rightMax: 45, rightStep: 5,
      leftLabelX: 100, rightLabelX: 627, rotate: false, titleX: 341, titleY: 592 }).grapher();

new StatePanel(canvas, "ny", stateNames[3],
    { ticks: nyTicks, cases: nyCases, deaths: nyDeaths, fatPct: nyFatPct, casePct: nyCasePct, fatAvg: nyFatAvg, caseAvg: nyCaseAvg },
    { xRange: [815, 1302], yRange: [994, 564], leftMax: 450000, leftStep: 50000, rightMax: 70, rightStep: 10,
      leftLabelX: 788, rightLabelX: 1341, rotate: true, titleX: 1041, titleY: 595 }).grapher();
</script>
</body>
</html>
